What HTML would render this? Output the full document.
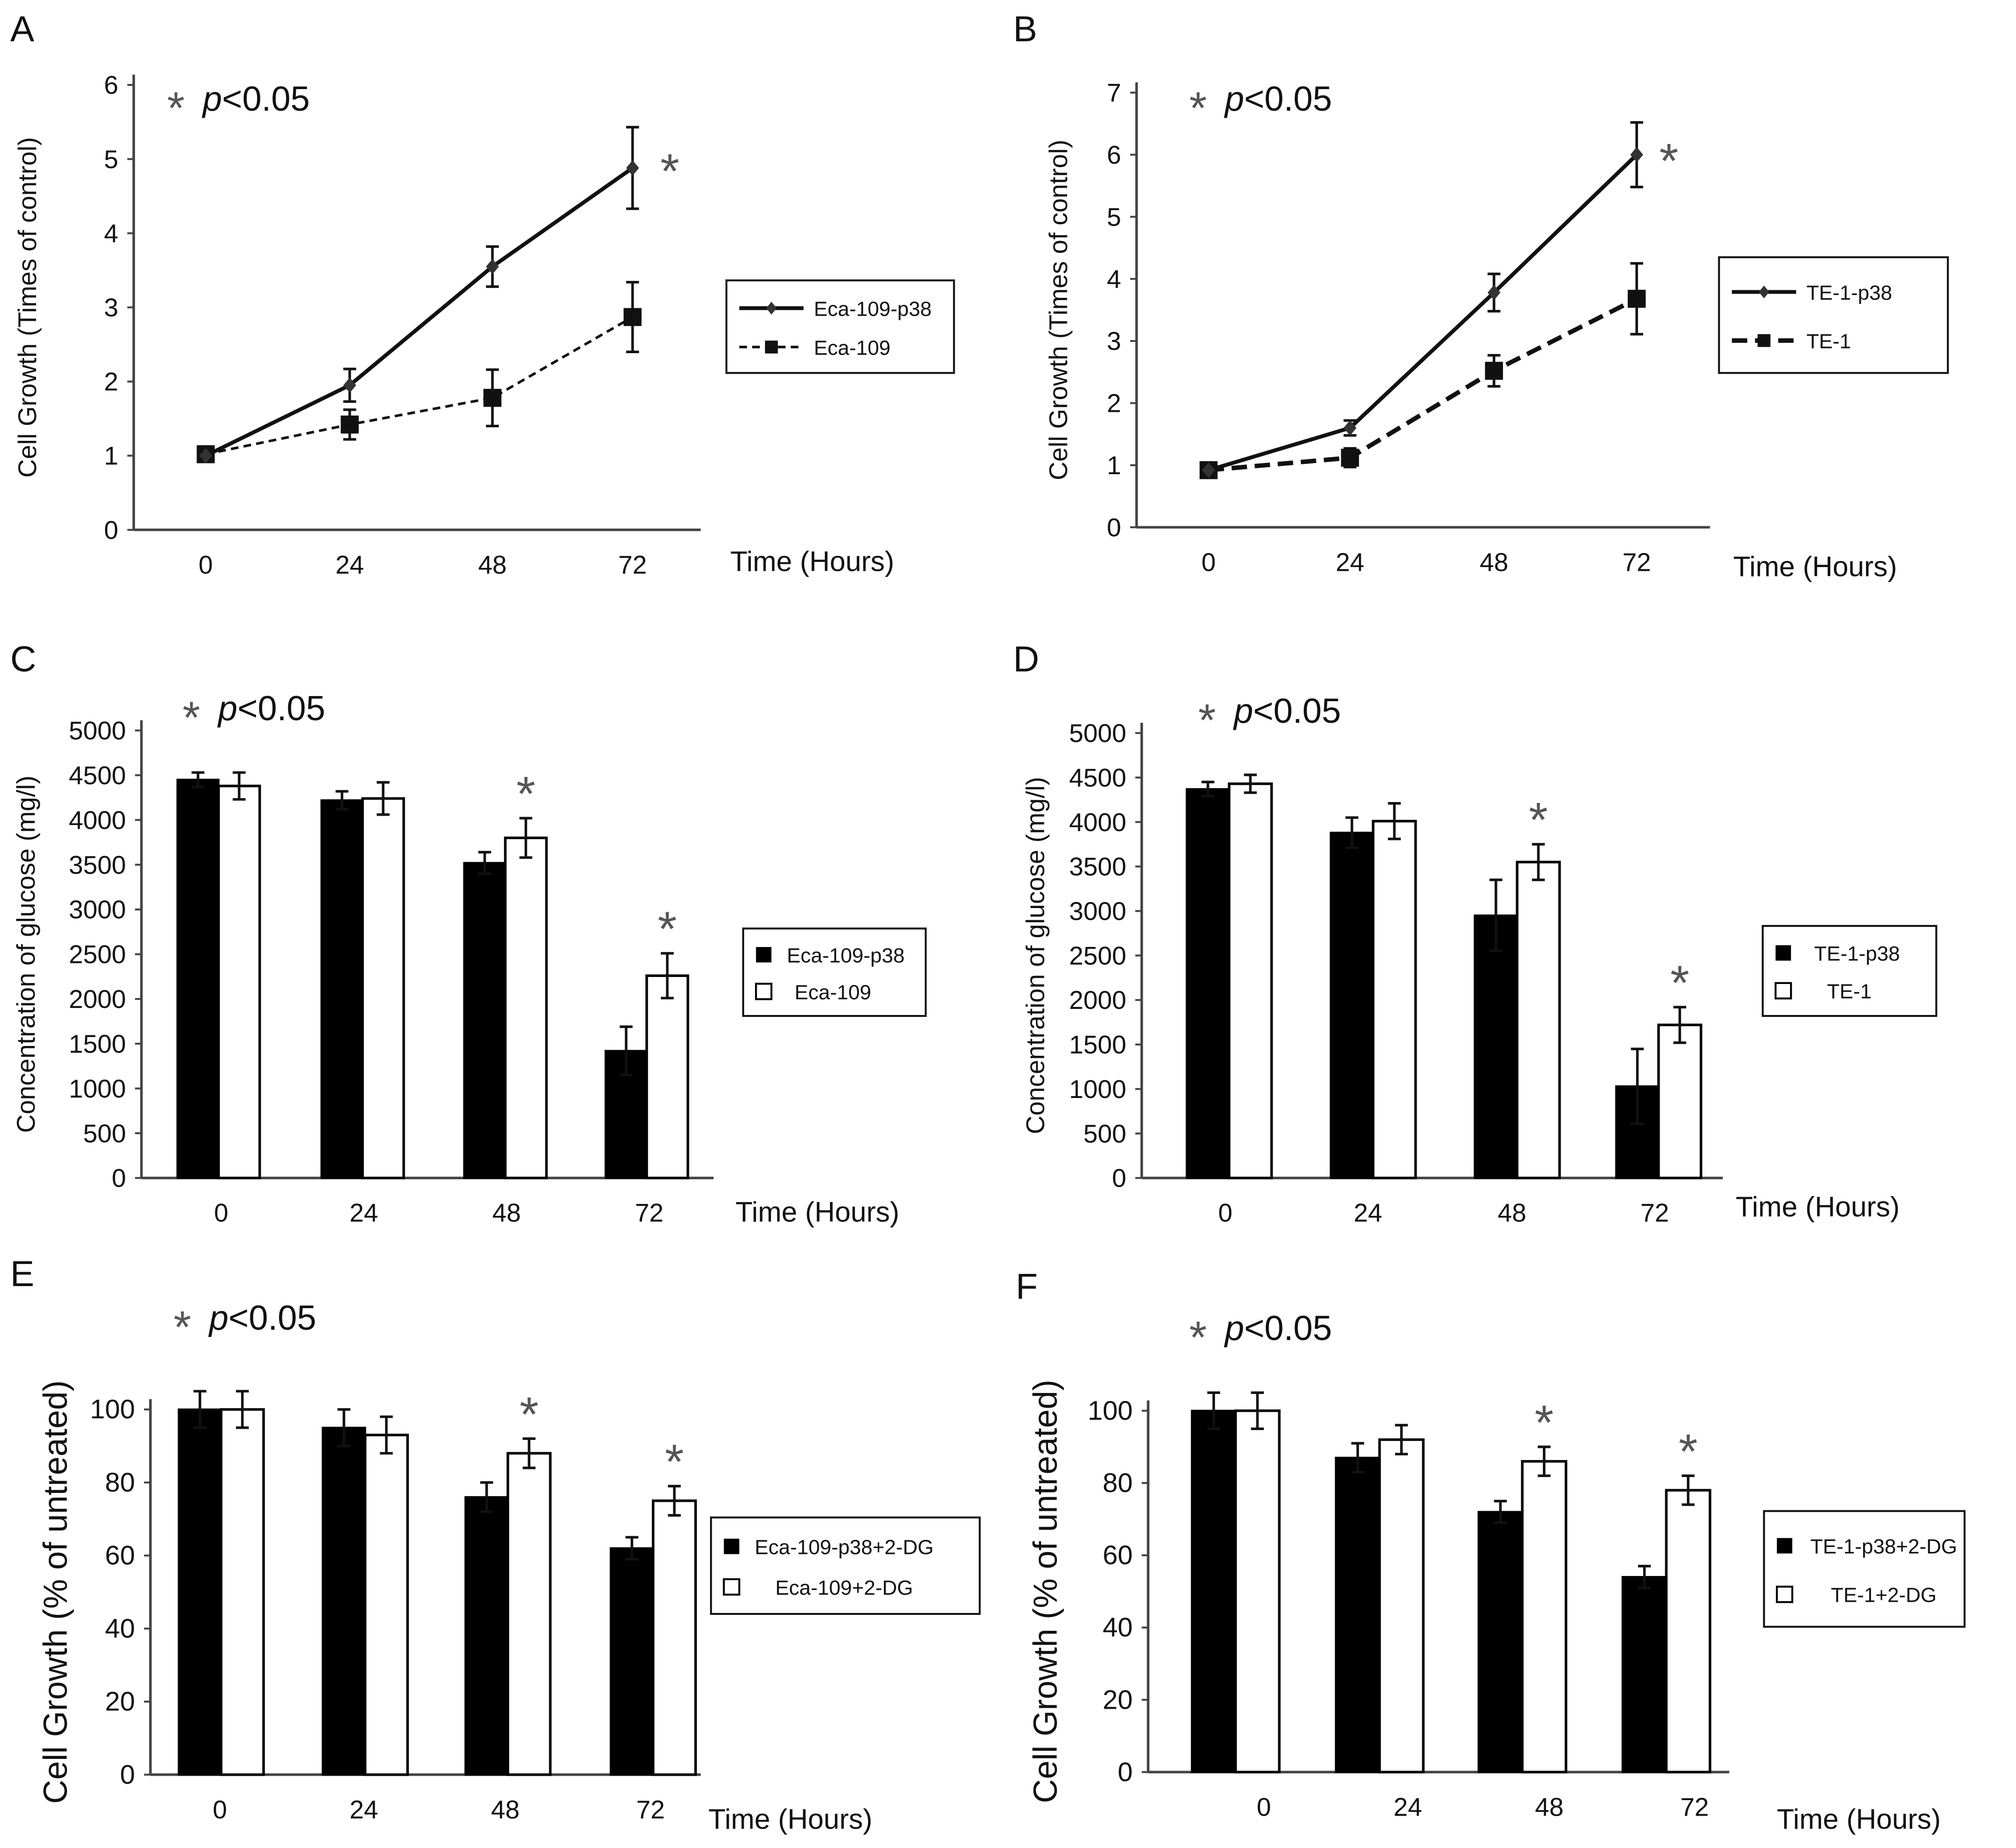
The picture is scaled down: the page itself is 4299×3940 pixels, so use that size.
<!DOCTYPE html>
<html><head><meta charset="utf-8">
<style>
html,body{margin:0;padding:0;background:#fff;}
svg{display:block;font-family:"Liberation Sans",sans-serif;}
</style></head>
<body>
<svg id="fig" width="4299" height="3940" viewBox="0 0 1568 1437" xmlns="http://www.w3.org/2000/svg">
<rect width="1568" height="1437" fill="#fff"/>
</svg>
<script>
// Panel A data
const aCats = ["0","24","48","72"];
const aP38 = [1.0, 1.95, 3.55, 4.88];
const aP38Err = [0.05, 0.22, 0.27, 0.55];
const aCtl = [1.02, 1.42, 1.78, 2.87];
const aCtlErr = [0.06, 0.2, 0.38, 0.47];
const aTicks = [0,1,2,3,4,5,6];
// Panel B data
const bCats = ["0","24","48","72"];
const bP38 = [0.92, 1.6, 3.78, 6.0];
const bP38Err = [0.05, 0.12, 0.3, 0.52];
const bCtl = [0.92, 1.12, 2.52, 3.68];
const bCtlErr = [0.05, 0.15, 0.25, 0.57];
const bTicks = [0,1,2,3,4,5,6,7];
// Panel C data
const cCats = ["0","24","48","72"];
const cP38 = [4450, 4220, 3520, 1420];
const cP38Err = [80, 100, 120, 270];
const cCtl = [4380, 4240, 3800, 2260];
const cCtlErr = [150, 180, 220, 250];
const cTicks = [0,500,1000,1500,2000,2500,3000,3500,4000,4500,5000];
// Panel D data
const dCats = ["0","24","48","72"];
const dP38 = [4370, 3880, 2950, 1030];
const dP38Err = [80, 170, 400, 420];
const dCtl = [4430, 4010, 3550, 1720];
const dCtlErr = [100, 200, 200, 200];
const dTicks = [0,500,1000,1500,2000,2500,3000,3500,4000,4500,5000];
// Panel E data
const eCats = ["0","24","48","72"];
const eP38 = [100, 95, 76, 62];
const eP38Err = [5, 5, 4, 3];
const eCtl = [100, 93, 88, 75];
const eCtlErr = [5, 5, 4, 4];
const eTicks = [0,20,40,60,80,100];
// Panel F data
const fCats = ["0","24","48","72"];
const fP38 = [100, 87, 72, 54];
const fP38Err = [5, 4, 3, 3];
const fCtl = [100, 92, 86, 78];
const fCtlErr = [5, 4, 4, 4];
const fTicks = [0,20,40,60,80,100];

const svg = document.getElementById('fig');
const NS = 'http://www.w3.org/2000/svg';
function mk(tag, attrs, parent){
  const e = document.createElementNS(NS, tag);
  for (const k in attrs) e.setAttribute(k, attrs[k]);
  (parent||svg).appendChild(e);
  return e;
}
function txt(s, x, y, size, anchor, parent, extra){
  const t = mk('text', Object.assign({x:x, y:y, 'font-size':size, 'text-anchor':anchor||'middle', fill:'#111'}, extra||{}), parent);
  t.textContent = s;
  return t;
}
function errbar(g, x, y1, y2, w){
  mk('line',{x1:x,x2:x,y1:y1,y2:y2,stroke:'#111','stroke-width':2},g);
  mk('line',{x1:x-w,x2:x+w,y1:y1,y2:y1,stroke:'#111','stroke-width':2},g);
  mk('line',{x1:x-w,x2:x+w,y1:y2,y2:y2,stroke:'#111','stroke-width':2},g);
}
function star(g, x, y, size){
  const t = txt('*', x, y, size||38, 'middle', g, {fill:'#555'});
  
  
}
function pLabel(g, x, y, size){
  const t = mk('text',{x:x,y:y,'font-size':size,fill:'#111'},g);
  
  
  const s = mk('tspan',{fill:'#555','font-size':size*1.3,dy:10},t); s.textContent='*';
  const p = mk('tspan',{dx:14,dy:-10,'font-style':'italic'},t); p.textContent='p';
  const r = mk('tspan',{},t); r.textContent='<0.05';
}

function panel(o){
  const g = mk('g',{});
  
  
  const L = txt(o.letter, o.letterX, o.letterY, 28, 'start', g);
  
  
  const yv = v => o.y0 - (v - o.ticks[0]) / (o.ticks[o.ticks.length-1]-o.ticks[0]) * (o.y0 - o.yTop);
  const xv = i => o.xs[i];
  const ya = mk('line',{x1:o.ax,x2:o.ax,y1:o.yTop-8,y2:o.y0,stroke:'#444','stroke-width':2},g);
   
  const xa = mk('line',{x1:o.ax,x2:o.axEnd,y1:o.y0,y2:o.y0,stroke:'#444','stroke-width':2},g);
   
  o.ticks.forEach(t=>{
    const y = yv(t);
    mk('line',{x1:o.ax-5,x2:o.ax,y1:y,y2:y,stroke:'#444','stroke-width':1.5},g);
    const tl = txt(String(t), o.ax-12, y+7, o.tickSize||20, 'end', g);
     
  });
  o.cats.forEach((c,i)=>{
    const tl = txt(c, o.labelXs ? o.labelXs[i] : xv(i), o.y0+34, 20, 'middle', g);
     
  });
  const xt = txt('Time (Hours)', o.timeX, o.timeY, 22, 'start', g);
   
  const yt = txt(o.ylabel, 0, 0, o.ylSize||20, 'middle', g, {transform:`translate(${o.ylX},${(o.y0+o.yTop)/2}) rotate(-90)`});
   
  pLabel(g, o.pX, o.pY, 27);

  if (o.type==='line'){
    const drawSeries = (vals, errs, dashed, marker, name)=>{
      const sg = mk('g',{},g);
       
      vals.forEach((v,i)=> errbar(sg, xv(i), yv(v+errs[i]), yv(v-errs[i]), 5));
      const pts = vals.map((v,i)=>xv(i)+','+yv(v)).join(' ');
      mk('polyline',{points:pts,fill:'none',stroke:'#111','stroke-width':dashed? o.dashW:3,'stroke-dasharray':dashed?o.dash:'none'},sg);
      vals.forEach((v,i)=>{
        const x=xv(i), y=yv(v);
        let m;
        if (marker==='d') m = mk('polygon',{points:`${x},${y-6} ${x+5},${y} ${x},${y+6} ${x-5},${y}`,fill:'#333'},sg);
        else m = mk('rect',{x:x-7,y:y-7,width:14,height:14,fill:'#111'},sg);
         
      });
    };
    drawSeries(o.ctl, o.ctlErr, true, 's', 'series-control');
    drawSeries(o.p38, o.p38Err, false, 'd', 'series-p38');
    star(g, o.starX, o.starY);
  } else {
    const bw = o.bw;
    o.p38.forEach((v,i)=>{
      const r = mk('rect',{x:xv(i)-bw,y:yv(v),width:bw,height:o.y0-yv(v),fill:'#000',stroke:'#000','stroke-width':1.5},g);
       
      errbar(g, xv(i)-bw/2, yv(v+o.p38Err[i]), yv(v-o.p38Err[i]), 5);
    });
    o.ctl.forEach((v,i)=>{
      const r = mk('rect',{x:xv(i),y:yv(v),width:bw,height:o.y0-yv(v),fill:'#fff',stroke:'#000','stroke-width':2},g);
       
      errbar(g, xv(i)+bw/2, yv(v+o.ctlErr[i]), yv(v-o.ctlErr[i]), 5);
      if (i>=2) star(g, xv(i)+bw/2, yv(v+o.ctlErr[i])-6);
    });
  }
  const lg = mk('g',{},g);
   
  const b = o.leg;
  mk('rect',{x:b[0],y:b[1],width:b[2]-b[0],height:b[3]-b[1],fill:'#fff',stroke:'#111','stroke-width':1.5},lg);
  const r1 = b[1]+(b[3]-b[1])*0.3, r2 = b[1]+(b[3]-b[1])*0.72;
  const e1 = mk('g',{},lg);  
  const e2 = mk('g',{},lg);  
  if (o.type==='line'){
    mk('line',{x1:b[0]+10,x2:b[0]+60,y1:r1,y2:r1,stroke:'#111','stroke-width':3},e1);
    const cx=b[0]+35;
    mk('polygon',{points:`${cx},${r1-5} ${cx+4},${r1} ${cx},${r1+5} ${cx-4},${r1}`,fill:'#333'},e1);
    mk('line',{x1:b[0]+10,x2:b[0]+60,y1:r2,y2:r2,stroke:'#111','stroke-width':o.dashW,'stroke-dasharray':o.dash},e2);
    mk('rect',{x:cx-5,y:r2-5,width:10,height:10,fill:'#111'},e2);
    txt(o.names[0], b[0]+68, r1+6, 16, 'start', e1);
    txt(o.names[1], b[0]+68, r2+6, 16, 'start', e2);
  } else {
    mk('rect',{x:b[0]+10,y:r1-6,width:12,height:12,fill:'#000'},e1);
    mk('rect',{x:b[0]+10,y:r2-6,width:12,height:12,fill:'#fff',stroke:'#000','stroke-width':1.5},e2);
    txt(o.names[0], b[0]+(o.legTx||36), r1+6, 16, 'start', e1);
    txt(o.names[1], b[0]+(o.legTx2||42), r2+6, 16, 'start', e2);
  }
}

panel({letter:'A',letterX:8,letterY:32,type:'line',cats:aCats,p38:aP38,p38Err:aP38Err,ctl:aCtl,ctlErr:aCtlErr,ticks:aTicks,
  ax:104,axEnd:545,y0:412,yTop:66,xs:[160,272,383,492],timeX:568,timeY:444,ylabel:'Cell Growth (Times of control)',ylX:28,
  pX:130,pY:86,starX:521,starY:146,dash:'6,4',dashW:2,leg:[565,218,742,290],names:['Eca-109-p38','Eca-109']});
panel({letter:'B',letterX:788,letterY:32,type:'line',cats:bCats,p38:bP38,p38Err:bP38Err,ctl:bCtl,ctlErr:bCtlErr,ticks:bTicks,
  ax:884,axEnd:1330,y0:410,yTop:72,xs:[940,1050,1162,1273],timeX:1348,timeY:448,ylabel:'Cell Growth (Times of control)',ylX:830,
  pX:925,pY:86,starX:1298,starY:138,dash:'12,6',dashW:3.5,leg:[1337,200,1515,290],names:['TE-1-p38','TE-1']});
panel({letter:'C',letterX:8,letterY:522,type:'bar',cats:cCats,p38:cP38,p38Err:cP38Err,ctl:cCtl,ctlErr:cCtlErr,ticks:cTicks,
  ax:110,axEnd:555,y0:916,yTop:568,xs:[170,282,393,503],labelXs:[172,283,394,505],bw:32,timeX:572,timeY:950,ylabel:'Concentration of glucose (mg/l)',ylX:27,
  pX:142,pY:560,leg:[578,722,720,790],names:['Eca-109-p38','Eca-109'],legTx:34,legTx2:40});
panel({letter:'D',letterX:788,letterY:522,type:'bar',cats:dCats,p38:dP38,p38Err:dP38Err,ctl:dCtl,ctlErr:dCtlErr,ticks:dTicks,
  ax:888,axEnd:1340,y0:916,yTop:570,xs:[956,1068,1180,1290],labelXs:[953,1064,1176,1287],bw:33,timeX:1350,timeY:946,ylabel:'Concentration of glucose (mg/l)',ylX:812,
  pX:932,pY:562,leg:[1371,720,1506,790],names:['TE-1-p38','TE-1'],legTx:40,legTx2:50});
panel({letter:'E',letterX:8,letterY:1000,type:'bar',cats:eCats,p38:eP38,p38Err:eP38Err,ctl:eCtl,ctlErr:eCtlErr,ticks:eTicks,
  ax:117,axEnd:545,y0:1380,yTop:1096,xs:[172,284,395,508],labelXs:[171,283,393,506],bw:33,timeX:551,timeY:1422,ylabel:'Cell Growth (% of untreated)',ylX:52,ylSize:26,tickSize:21,
  pX:135,pY:1034,leg:[553,1180,762,1255],names:['Eca-109-p38+2-DG','Eca-109+2-DG'],legTx:34,legTx2:50});
panel({letter:'F',letterX:790,letterY:1010,type:'bar',cats:fCats,p38:fP38,p38Err:fP38Err,ctl:fCtl,ctlErr:fCtlErr,ticks:fTicks,
  ax:893,axEnd:1345,y0:1378,yTop:1097,xs:[961,1073,1184,1296],labelXs:[983,1095,1205,1318],bw:34,timeX:1382,timeY:1422,ylabel:'Cell Growth (% of untreated)',ylX:822,ylSize:26,tickSize:21,
  pX:925,pY:1042,leg:[1372,1175,1528,1265],names:['TE-1-p38+2-DG','TE-1+2-DG'],legTx:36,legTx2:52});
</script>
</body></html>
